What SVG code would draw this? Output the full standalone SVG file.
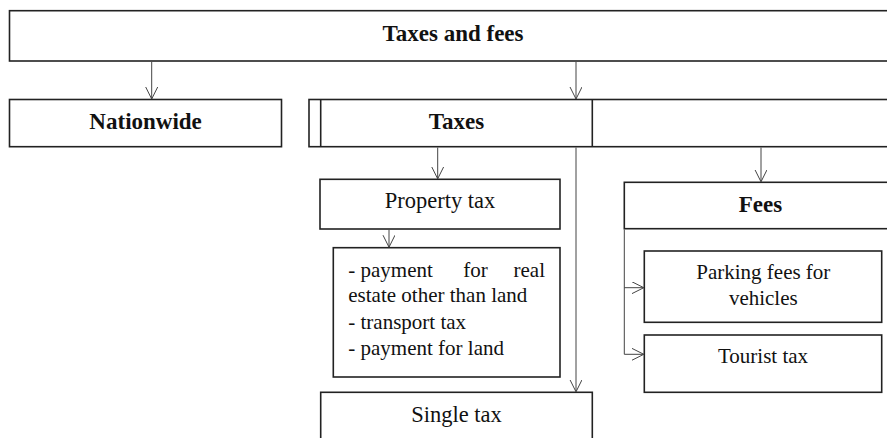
<svg xmlns="http://www.w3.org/2000/svg" width="887" height="438" viewBox="0 0 887 438">
<defs>
<style>
.box{fill:#fff;stroke:#222;stroke-width:1.6}
.sep{fill:none;stroke:#222;stroke-width:1.6}
.conn{fill:none;stroke:#444;stroke-width:1}
.b{font-family:"Liberation Serif","Times New Roman",serif;font-weight:bold;font-size:23px;text-anchor:middle;fill:#111}
.r{font-family:"Liberation Serif","Times New Roman",serif;font-size:21px;text-anchor:middle;fill:#111}
.r2{font-family:"Liberation Serif","Times New Roman",serif;font-size:22.5px;text-anchor:middle;fill:#111}
.l{font-family:"Liberation Serif","Times New Roman",serif;font-size:21px;fill:#111}
</style>
<marker id="arr" markerWidth="14" markerHeight="14" refX="12" refY="6" orient="auto" markerUnits="userSpaceOnUse">
<path d="M0,0 L12,6 L0,12" fill="none" stroke="#444" stroke-width="1"/>
</marker>
</defs>
<rect width="887" height="438" fill="#fff"/>
<g id="node-taxes-and-fees">
<rect class="box" x="9.5" y="10.7" width="890" height="50.3"/>
<text class="b" x="453" y="40.5">Taxes and fees</text>
</g>
<g id="node-nationwide">
<rect class="box" x="9.5" y="99.5" width="272" height="47.2"/>
<text class="b" x="145.6" y="129.3">Nationwide</text>
</g>
<g id="node-taxes">
<rect class="box" x="309" y="99.5" width="591" height="47.2"/>
<line class="sep" x1="320.7" y1="99.5" x2="320.7" y2="146.7"/>
<line class="sep" x1="592.3" y1="99.5" x2="592.3" y2="146.7"/>
<text class="b" x="456.5" y="129.3">Taxes</text>
</g>
<g id="node-property-tax">
<rect class="box" x="320" y="179.3" width="240" height="49.7"/>
<text class="r2" x="440" y="208.3">Property tax</text>
</g>
<g id="node-property-list">
<rect class="box" x="333.3" y="247.7" width="226.7" height="129.3"/>
<text class="l" y="276.7"><tspan x="348.3">- payment</tspan><tspan x="463.3">for</tspan></text>
<text class="l" x="545" y="276.7" text-anchor="end">real</text>
<text class="l" x="348.3" y="302">estate other than land</text>
<text class="l" x="348.3" y="328.5">- transport tax</text>
<text class="l" x="348.3" y="355">- payment for land</text>
</g>
<g id="node-single-tax">
<rect class="box" x="320.7" y="392.3" width="271.6" height="60"/>
<text class="r2" x="456.5" y="421.7">Single tax</text>
</g>
<g id="node-fees">
<rect class="box" x="624.3" y="182.3" width="280" height="46.4"/>
<text class="b" x="760.5" y="211.7">Fees</text>
</g>
<g id="node-parking">
<rect class="box" x="644.3" y="251" width="237.4" height="71.3"/>
<text class="r" x="763.3" y="279.3">Parking fees for</text>
<text class="r" x="763.3" y="305">vehicles</text>
</g>
<g id="node-tourist">
<rect class="box" x="644.3" y="335" width="237.4" height="57.3"/>
<text class="r" x="763" y="363.3">Tourist tax</text>
</g>
<g id="connectors">
<path class="conn" d="M151.7,61.8 V99" marker-end="url(#arr)"/>
<path class="conn" d="M576,61.8 V99" marker-end="url(#arr)"/>
<path class="conn" d="M437.7,147.5 V178.8" marker-end="url(#arr)"/>
<path class="conn" d="M389,229.8 V247.2" marker-end="url(#arr)"/>
<path class="conn" d="M576,147.5 V391.8" marker-end="url(#arr)"/>
<path class="conn" d="M761,147.5 V181.8" marker-end="url(#arr)"/>
<path class="conn" d="M624.3,229.5 V354.3 H643.8" marker-end="url(#arr)"/>
<path class="conn" d="M624.3,287.7 H643.8" marker-end="url(#arr)"/>
</g>
</svg>
